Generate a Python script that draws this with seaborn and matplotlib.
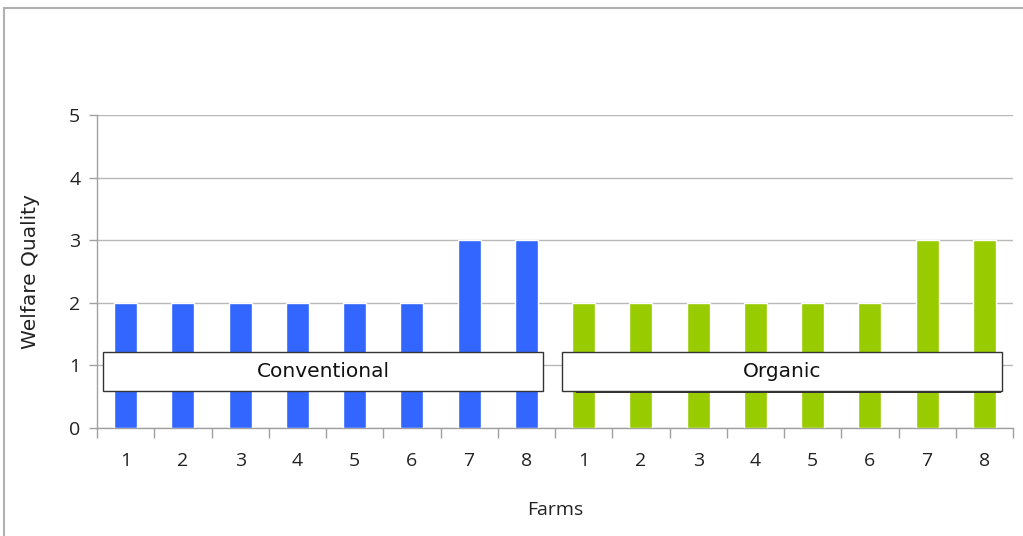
import pandas as pd
import matplotlib.pyplot as plt
import matplotlib.patches as patches
from matplotlib.ticker import FixedLocator
import seaborn as sns

# Data
farms = ["1", "2", "3", "4", "5", "6", "7", "8"]
conventional_scores = [2, 2, 2, 2, 2, 2, 3, 3]
organic_scores = [2, 2, 2, 2, 2, 2, 3, 3]
groups = ["Conventional", "Organic"]
group_colors = {"Conventional": "#3366FF", "Organic": "#99CC00"}

df = pd.DataFrame({
    "group": [groups[0]] * len(farms) + [groups[1]] * len(farms),
    "farm": farms + farms,
    "score": conventional_scores + organic_scores,
})
df["slot"] = df["group"] + " " + df["farm"]

sns.set_style("white")
plt.rcParams["font.family"] = ["Open Sans", "DejaVu Sans"]

fig = plt.figure(figsize=(10.23, 5.36), dpi=100)
ax = fig.add_axes([97 / 1023, 1 - 428 / 536, (1013 - 97) / 1023, (428 - 115) / 536])

sns.barplot(data=df, x="slot", y="score", hue="group", order=list(df["slot"]),
            palette=group_colors, dodge=False, width=0.4, legend=False,
            saturation=1, ax=ax, zorder=3)

n = len(df)
ax.set_xlim(-0.5, n - 0.5)
ax.set_ylim(0, 5)
ax.set_yticks(range(0, 6))

# boundary tick marks, labels at bar centres
ax.xaxis.set_major_locator(FixedLocator([i - 0.5 for i in range(n + 1)]))
ax.set_xticklabels([])
ax.xaxis.set_minor_locator(FixedLocator(list(range(n))))
ax.set_xticklabels(list(df["farm"]), minor=True)
ax.tick_params(axis="x", which="major", length=7, width=1, color="#a0a0a0", direction="out", bottom=True)
ax.tick_params(axis="x", which="minor", length=0, pad=17.5, labelsize=14, labelcolor="#222222")
ax.tick_params(axis="y", length=6, width=1, color="#a0a0a0", direction="out", left=True,
               pad=6, labelsize=14, labelcolor="#222222")

ax.grid(axis="y", color="#b8b8b8", linewidth=1, zorder=0)
ax.set_axisbelow(True)
for side in ["top", "right"]:
    ax.spines[side].set_visible(False)
for side in ["left", "bottom"]:
    ax.spines[side].set_color("#a0a0a0")
    ax.spines[side].set_linewidth(1)

ax.set_xlabel("Farms", fontsize=14, color="#222222", labelpad=22)
ax.set_ylabel("Welfare Quality", fontsize=14.5, family=["DejaVu Sans"], color="#222222", labelpad=21)

# group label boxes
boxes = [(-0.395, 7.29), (7.62, 15.31)]
for (x0, x1), name in zip(boxes, groups):
    if name == "Organic":
        ax.add_patch(patches.Rectangle((x0 + 0.25, 0.56), x1 - x0 - 0.27, 0.62,
                                       facecolor="#333333", edgecolor="none", zorder=4))
    ax.add_patch(patches.Rectangle((x0, 0.59), x1 - x0, 0.62, facecolor="white",
                                   edgecolor="#333333", linewidth=1, zorder=5))
    ax.text((x0 + x1) / 2, 0.9, name, ha="center", va="center", fontsize=14.5,
            family=["DejaVu Sans"], color="#111111", zorder=6)

# outer frame of the chart area
fig.patches.append(patches.Rectangle((4 / 1023, -0.1), 1.2, 1 - 8 / 536 + 0.1,
                                     transform=fig.transFigure, fill=False,
                                     edgecolor="#b0b0b0", linewidth=1.5))

fig.savefig("out.png", dpi=100)
